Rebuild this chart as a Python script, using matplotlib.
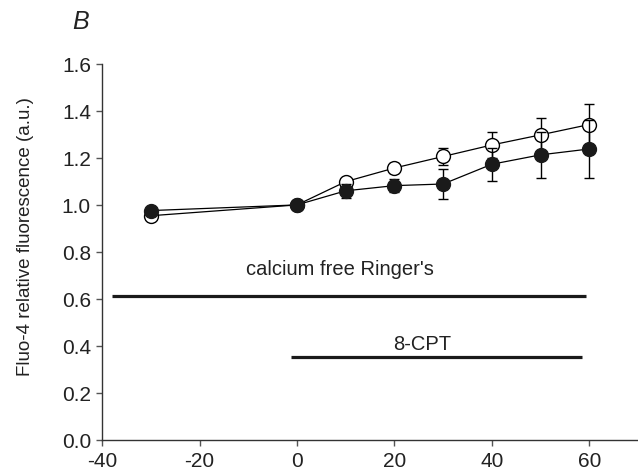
import numpy as np
import matplotlib
matplotlib.use('Agg')
import matplotlib.pyplot as plt

plt.rcParams['font.family'] = ['Liberation Sans', 'DejaVu Sans']
plt.rcParams['axes.unicode_minus'] = False

# Data (time in min, relative fluorescence)
time = [-30, 0, 10, 20, 30, 40, 50, 60]
open_mean = [0.954, 1.0, 1.099, 1.157, 1.206, 1.255, 1.298, 1.342]
open_err = [0.0, 0.0, 0.012, 0.02, 0.036, 0.056, 0.073, 0.087]
filled_mean = [0.976, 1.0, 1.06, 1.082, 1.089, 1.173, 1.213, 1.238]
filled_err = [0.0, 0.0, 0.03, 0.027, 0.064, 0.07, 0.098, 0.123]

# Treatment bars
ringer_span = [-38, 59.3]
ringer_level = 0.611
cpt_span = [-1.3, 58.5]
cpt_level = 0.352

fig = plt.figure(figsize=(6.38, 4.77), dpi=100)
ax = fig.add_axes([0.16, 0.0755, 0.84, 0.7885])

ax.errorbar(time, open_mean, yerr=open_err, fmt='o', color='black', mfc='white',
            mec='black', ms=10, mew=1, lw=0.9, elinewidth=1, capsize=3.5, capthick=1,
            ls='-', zorder=3)
ax.errorbar(time, filled_mean, yerr=filled_err, fmt='o', color='black', mfc='#1a1a1a',
            mec='#1a1a1a', ms=10, lw=0.9, elinewidth=1, capsize=3.5, capthick=1,
            ls='-', zorder=4)

ax.plot(ringer_span, [ringer_level, ringer_level], color='#1a1a1a', lw=2.3, solid_capstyle='butt')
ax.plot(cpt_span, [cpt_level, cpt_level], color='#1a1a1a', lw=2.3, solid_capstyle='butt')
ax.text(8.9, 0.728, "calcium free Ringer's", ha='center', va='center', fontsize=14.5, color='#222222')
ax.text(25.8, 0.41, "8-CPT", ha='center', va='center', fontsize=14.5, color='#222222')

ax.set_xlim(-40, 70)
ax.set_ylim(0, 1.6)
ax.set_xticks([-40, -20, 0, 20, 40, 60])
ax.set_yticks(np.arange(0, 1.61, 0.2))
ax.set_yticklabels(['%.1f' % v for v in np.arange(0, 1.61, 0.2)])
ax.spines['top'].set_visible(False)
ax.spines['right'].set_visible(False)
for s in ['left', 'bottom']:
    ax.spines[s].set_color('#333333')
    ax.spines[s].set_linewidth(1)
ax.tick_params(direction='out', length=4, width=1, color='#555555', labelsize=15,
               labelcolor='#222222', pad=4)
ax.set_ylabel('Fluo-4 relative fluorescence (a.u.)', fontsize=13.5, color='#222222',
              va='center')
ax.yaxis.set_label_coords(-0.143, 0.543)

fig.text(0.127, 0.953, 'B', fontsize=18, style='italic', ha='center', va='center', color='#222222')

fig.savefig('out.png', dpi=100)
